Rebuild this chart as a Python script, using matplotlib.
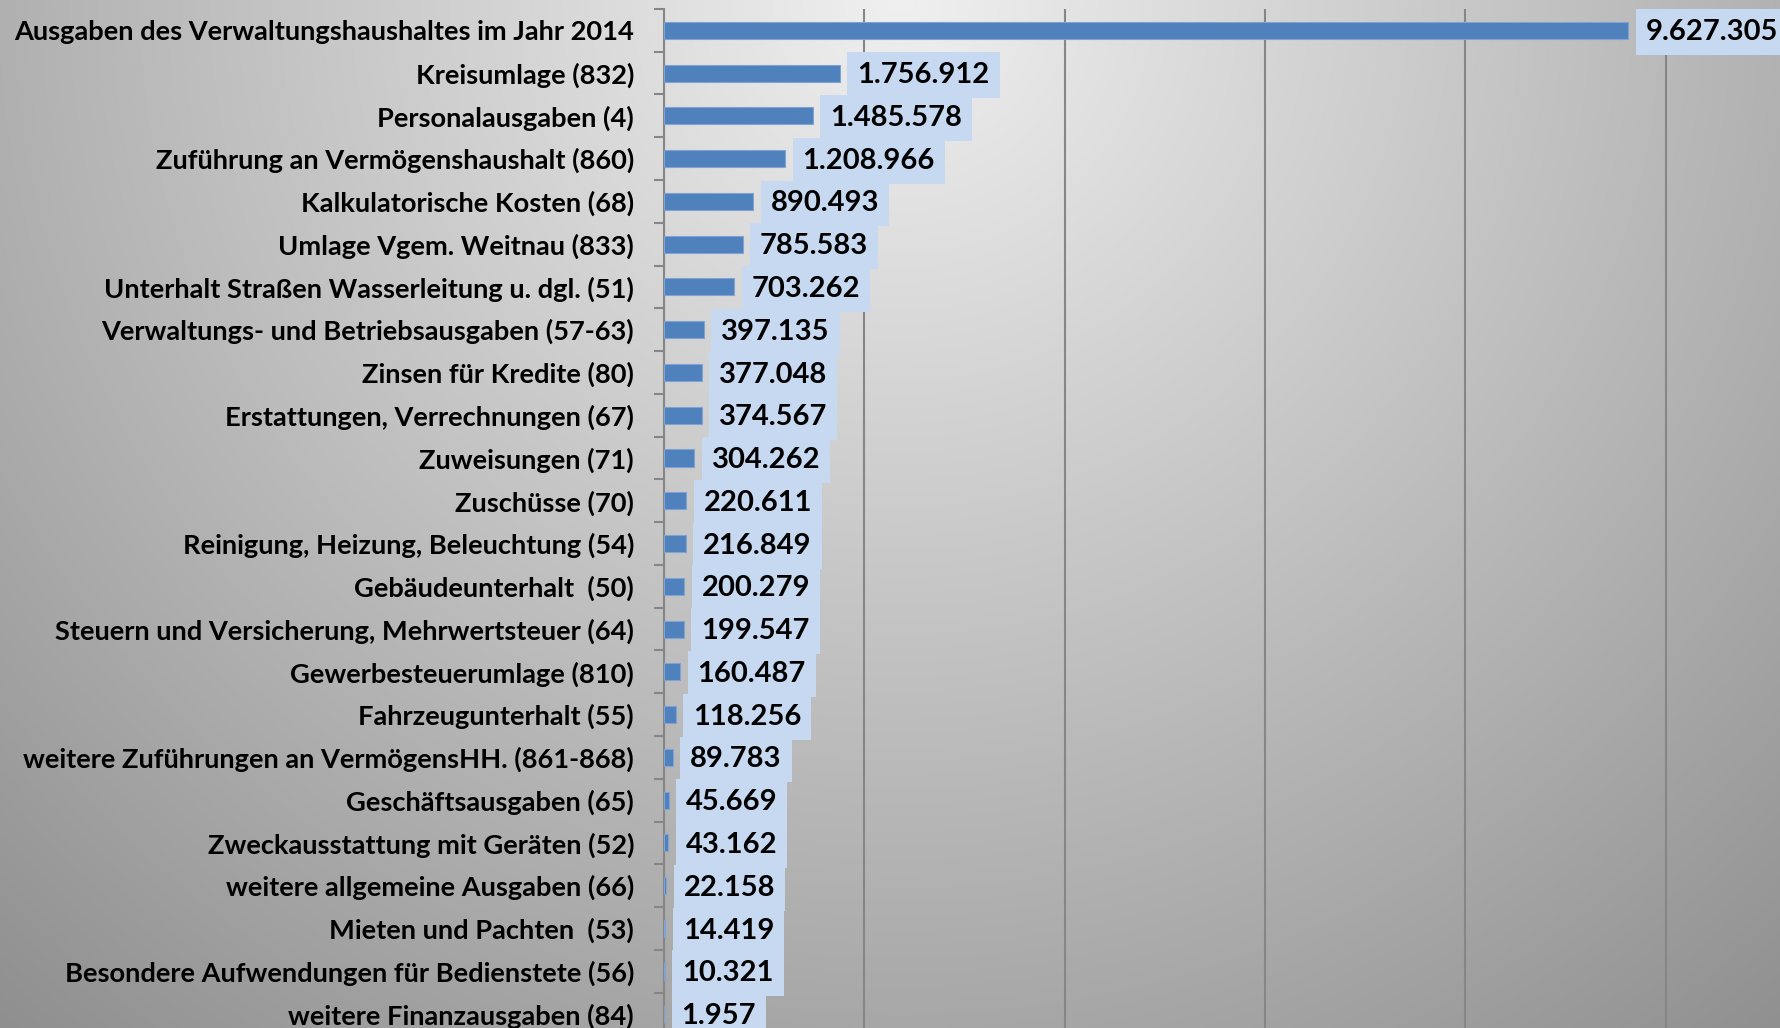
import numpy as np
import matplotlib
matplotlib.use('Agg')
import matplotlib.pyplot as plt

plt.rcParams['font.family'] = ['Lato', 'DejaVu Sans']
plt.rcParams['font.weight'] = 'bold'

# data
labels = [
    'Ausgaben des Verwaltungshaushaltes im Jahr 2014',
    'Kreisumlage (832)',
    'Personalausgaben (4)',
    'Zuführung an Vermögenshaushalt (860)',
    'Kalkulatorische Kosten (68)',
    'Umlage Vgem. Weitnau (833)',
    'Unterhalt Straßen Wasserleitung u. dgl. (51)',
    'Verwaltungs- und Betriebsausgaben (57-63)',
    'Zinsen für Kredite (80)',
    'Erstattungen, Verrechnungen (67)',
    'Zuweisungen (71)',
    'Zuschüsse (70)',
    'Reinigung, Heizung, Beleuchtung (54)',
    'Gebäudeunterhalt  (50)',
    'Steuern und Versicherung, Mehrwertsteuer (64)',
    'Gewerbesteuerumlage (810)',
    'Fahrzeugunterhalt (55)',
    'weitere Zuführungen an VermögensHH. (861-868)',
    'Geschäftsausgaben (65)',
    'Zweckausstattung mit Geräten (52)',
    'weitere allgemeine Ausgaben (66)',
    'Mieten und Pachten  (53)',
    'Besondere Aufwendungen für Bedienstete (56)',
    'weitere Finanzausgaben (84)',
]
values = [9627305, 1756912, 1485578, 1208966, 890493, 785583, 703262,
          397135, 377048, 374567, 304262, 220611, 216849, 200279, 199547,
          160487, 118256, 89783, 45669, 43162, 22158, 14419, 10321, 1957]


def fmt(v):
    return '{:,}'.format(v).replace(',', '.')


W, H = 1780, 1028
fig = plt.figure(figsize=(W / 100, H / 100), dpi=100)

# background gradient (radial, light at the top centre)
yy, xx = np.mgrid[0:H, 0:W]
r = np.hypot(xx - 900, yy)
grad = np.clip(240 - 0.071 * r, 0, 255) / 255.0
bg = fig.add_axes([0, 0, 1, 1])
bg.imshow(np.dstack([grad, grad, grad]), aspect='auto', extent=(0, 1, 0, 1))
bg.axis('off')

top_px, bot_px = 8.9, 1035.4
ax = fig.add_axes([664 / W, (H - bot_px) / H, 1 - 664 / W, (bot_px - top_px) / H])
ax.set_facecolor('none')

y = np.arange(len(labels))
ax.barh(y, values, height=0.4, color='#4F81BD', edgecolor='#7fa3d2',
        linewidth=0.8, zorder=3)

for yi, v in zip(y, values):
    ax.annotate(fmt(v), xy=(v, yi), xytext=(12.5, -1.5), textcoords='offset points',
                ha='left', va='center', fontsize=21, fontweight='bold',
                color='black', zorder=4,
                bbox=dict(boxstyle='square,pad=0.34', facecolor='#C6D9F1',
                          edgecolor='none'))

ax.set_xlim(0, 11.14e6)
ax.set_ylim(len(labels) - 0.5, -0.5)
ax.set_xticks(np.arange(0, 12e6, 2e6))
ax.xaxis.grid(True, color='#868686', linewidth=1.5, zorder=1)
ax.set_axisbelow(True)
ax.tick_params(axis='x', length=0, labelbottom=False)

ax.set_yticks(y)
ax.set_yticklabels(labels, fontsize=19.6, fontweight='bold')
ax.tick_params(axis='y', which='major', length=0, pad=21.6)
ax.set_yticks(np.arange(len(labels) + 1) - 0.5, minor=True)
ax.tick_params(axis='y', which='minor', length=7, width=1.5, color='#868686')

for s in ['top', 'right', 'bottom']:
    ax.spines[s].set_visible(False)
ax.spines['left'].set_color('#868686')
ax.spines['left'].set_linewidth(1.5)

fig.savefig('out.png', dpi=100)
